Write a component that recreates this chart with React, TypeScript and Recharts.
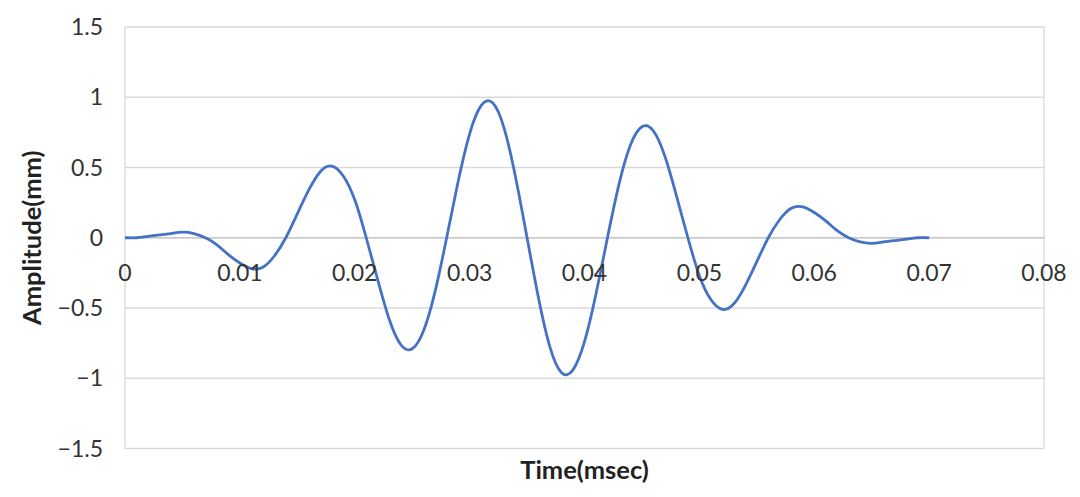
import React from 'react';
import {
  LineChart,
  Line,
  XAxis,
  YAxis,
  CartesianGrid,
  ReferenceDot,
  ReferenceLine,
} from 'recharts';

// Time (msec)
const timeValues = [
  0, 0.001, 0.002, 0.003, 0.004, 0.005, 0.006, 0.007, 0.008, 0.009,
  0.01, 0.011, 0.012, 0.013, 0.014, 0.015, 0.016, 0.017, 0.018, 0.019,
  0.02, 0.021, 0.022, 0.023, 0.024, 0.025, 0.026, 0.027, 0.028, 0.029,
  0.03, 0.031, 0.032, 0.033, 0.034, 0.035, 0.036, 0.037, 0.038, 0.039,
  0.04, 0.041, 0.042, 0.043, 0.044, 0.045, 0.046, 0.047, 0.048, 0.049,
  0.05, 0.051, 0.052, 0.053, 0.054, 0.055, 0.056, 0.057, 0.058, 0.059,
  0.06, 0.061, 0.062, 0.063, 0.064, 0.065, 0.066, 0.067, 0.068, 0.069,
  0.07,
];

// Amplitude (mm)
const amplitudeValues = [
  0, 0.0, 0.01, 0.02, 0.03, 0.04, 0.03, 0.0, -0.05, -0.12,
  -0.18, -0.22, -0.21, -0.13, 0.0, 0.17, 0.34, 0.47, 0.51, 0.44,
  0.27, 0.0, -0.3, -0.58, -0.76, -0.79, -0.66, -0.38, 0.0, 0.4,
  0.74, 0.94, 0.96, 0.78, 0.43, 0.0, -0.43, -0.78, -0.96, -0.94,
  -0.74, -0.4, 0.0, 0.38, 0.66, 0.79, 0.76, 0.58, 0.3, 0.0,
  -0.27, -0.44, -0.51, -0.47, -0.34, -0.17, 0.0, 0.13, 0.21, 0.22,
  0.18, 0.12, 0.05, 0.0, -0.03, -0.04, -0.03, -0.02, -0.01, 0.0,
  0,
];

const xTicks = [0, 0.01, 0.02, 0.03, 0.04, 0.05, 0.06, 0.07, 0.08];
const yTicks = [-1.5, -1, -0.5, 0, 0.5, 1, 1.5];

const xTitle = 'Time(msec)';
const yTitle = 'Amplitude(mm)';

const data = timeValues.map((t, i) => ({ t, amp: amplitudeValues[i] }));

const FONT = "Lato, 'Open Sans', sans-serif";
const TEXT = '#333333';
const GRID = '#d9d9d9';
const LINE = '#4472C4';

const fmtX = (v: number) => String(Number(v.toFixed(2)));
const fmtY = (v: number) => (v < 0 ? '\u2212' + String(Math.abs(v)) : String(v));

export default function App() {
  return (
    <div style={{ position: 'absolute', left: 0, top: 0, width: 1080, height: 497, background: '#fff' }}>
      <LineChart
        width={1080}
        height={497}
        data={data}
        margin={{ top: 27, right: 36, bottom: 0, left: 0 }}
      >
        <CartesianGrid stroke={GRID} strokeWidth={1.3} horizontal vertical />
        <XAxis
          dataKey="t"
          type="number"
          domain={[0, 0.08]}
          ticks={xTicks}
          tick={false}
          tickLine={false}
          axisLine={false}
          height={48.5}
          label={{
            value: xTitle,
            position: 'center',
            dy: -3,
            fill: '#222',
            fontSize: 25.5,
            fontWeight: 'bold',
            fontFamily: FONT,
          }}
        />
        <YAxis
          type="number"
          domain={[-1.5, 1.5]}
          ticks={yTicks}
          interval={0}
          width={125}
          tickLine={false}
          axisLine={false}
          tickSize={6}
          tickMargin={16}
          tickFormatter={fmtY}
          tick={{ fill: TEXT, fontSize: 23, fontFamily: FONT }}
          label={{
            value: yTitle,
            angle: -90,
            position: 'center',
            dx: -31,
            fill: '#222',
            fontSize: 25.5,
            fontWeight: 'bold',
            fontFamily: FONT,
          }}
        />
        <ReferenceLine y={0} stroke="#c8c8c8" strokeWidth={1.3} />
        {xTicks.map((v) => (
          <ReferenceDot
            key={v}
            x={v}
            y={0}
            r={0}
            fill="none"
            stroke="none"
            label={{
              value: fmtX(v),
              position: 'bottom',
              offset: 27,
              fill: TEXT,
              fontSize: 23,
              fontFamily: FONT,
            }}
          />
        ))}
        <Line
          type="natural"
          dataKey="amp"
          stroke={LINE}
          strokeWidth={2.8}
          dot={false}
          isAnimationActive={false}
        />
      </LineChart>
    </div>
  );
}
